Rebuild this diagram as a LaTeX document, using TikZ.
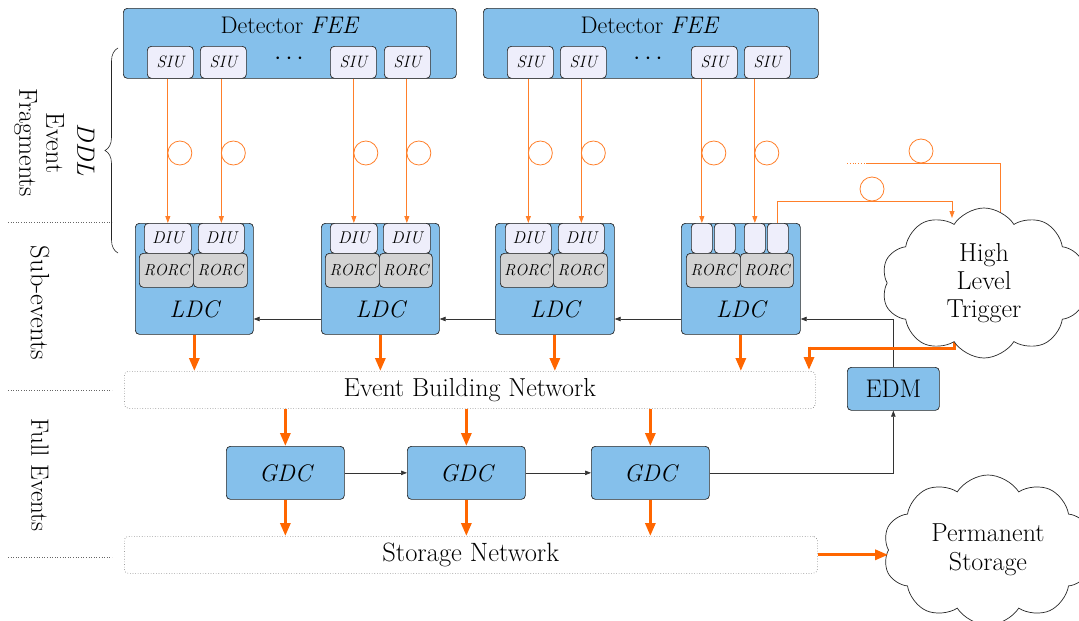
\documentclass[tikz,border=0pt]{standalone}
\usepackage{fontspec}
\usetikzlibrary{shapes.symbols,arrows.meta,decorations.pathreplacing,calc}
\definecolor{boxblue}{HTML}{85C0EB}
\definecolor{siufill}{HTML}{EEEEFB}
\definecolor{rorcfill}{HTML}{D3D3D3}
\definecolor{org}{HTML}{FF6600}
\definecolor{orgthin}{HTML}{FF7F2A}
\begin{document}
\begin{tikzpicture}[x=1pt,y=-1pt,
  every node/.style={inner sep=0pt, font=\fontsize{26}{30}\selectfont},
  bluebox/.style={draw=black!85, fill=boxblue, rounded corners=4pt, line width=0.7pt},
  siubox/.style={draw=black!85, fill=siufill, rounded corners=4pt, line width=0.7pt, font=\fontsize{16.5}{19}\selectfont\itshape},
  rorcbox/.style={draw=black!85, fill=rorcfill, rounded corners=4pt, line width=0.7pt, font=\fontsize{16}{19}\selectfont\itshape},
  wh/.style 2 args={minimum width=#1, minimum height=#2},
  nw/.style={anchor=north west},
  netbox/.style={draw=black!60, dotted, rounded corners=4pt, line width=0.6pt},
  sep/.style={draw=black!60, dotted, line width=0.6pt},
  thinarr/.style={draw=orgthin, line width=0.8pt, -{Triangle[length=7pt,width=5pt]}},
  thickarr/.style={draw=org, line width=3pt, -{Triangle[length=13pt,width=10pt]}},
  blkarr/.style={draw=black!80, line width=0.7pt, -{Triangle[length=6pt,width=4.5pt]}},
  loopc/.style={draw=orgthin, line width=0.8pt, circle, minimum size=24pt},
  bigit/.style={font=\fontsize{24}{28}\selectfont\itshape},
  cloudnode/.style={cloud, draw=black!85, fill=white, line width=0.7pt, cloud puffs=10, cloud puff arc=115, aspect=1.35, align=center},
]
\useasboundingbox (0,0) rectangle (1079,621);

% ---- Detector FEE boxes
\node[bluebox,nw,wh={333}{70}] (fee1) at (123,8) {};
\node[anchor=base, font=\fontsize{24}{28}\selectfont] (fee1t) at (290,33) {Detector \textit{FEE}};
\node[bluebox,nw,wh={335}{70}] (fee2) at (483,8) {};
\node[anchor=base, font=\fontsize{24}{28}\selectfont] (fee2t) at (650,33) {Detector \textit{FEE}};

\node[siubox,nw,wh={46}{32}] (s11) at (147,46) {SIU};
\node[siubox,nw,wh={46}{32}] (s12) at (200,46) {SIU};
\node[font=\fontsize{27}{30}\selectfont] (dots1) at (289,59) {$\cdots$};
\node[siubox,nw,wh={46}{32}] (s13) at (330,46) {SIU};
\node[siubox,nw,wh={46}{32}] (s14) at (384,46) {SIU};
\node[siubox,nw,wh={46}{32}] (s21) at (507,46) {SIU};
\node[siubox,nw,wh={46}{32}] (s22) at (560,46) {SIU};
\node[font=\fontsize{27}{30}\selectfont] (dots2) at (648,59) {$\cdots$};
\node[siubox,nw,wh={46}{32}] (s23) at (691,46) {SIU};
\node[siubox,nw,wh={46}{32}] (s24) at (744,46) {SIU};

% ---- LDCs
\node[bluebox,nw,wh={118}{111}] (l1) at (135,223) {};
\node[bluebox,nw,wh={118}{111}] (l2) at (321,223) {};
\node[bluebox,nw,wh={119}{111}] (l3) at (495,223) {};
\node[bluebox,nw,wh={119}{111}] (l4) at (681,223) {};
\node[bigit] (l1t) at ($(l1.south)+(0,-25)$) {LDC};
\node[bigit] (l2t) at ($(l2.south)+(0,-25)$) {LDC};
\node[bigit] (l3t) at ($(l3.south)+(0,-25)$) {LDC};
\node[bigit] (l4t) at ($(l4.south)+(0,-25)$) {LDC};

\node[siubox,nw,wh={47}{30},font=\fontsize{17}{20}\selectfont\itshape] (d11) at (144,223) {DIU};
\node[siubox,nw,wh={46}{30},font=\fontsize{17}{20}\selectfont\itshape] (d12) at (198,223) {DIU};
\node[siubox,nw,wh={47}{30},font=\fontsize{17}{20}\selectfont\itshape] (d21) at (330,223) {DIU};
\node[siubox,nw,wh={47}{30},font=\fontsize{17}{20}\selectfont\itshape] (d22) at (383,223) {DIU};
\node[siubox,nw,wh={46}{30},font=\fontsize{17}{20}\selectfont\itshape] (d31) at (505,223) {DIU};
\node[siubox,nw,wh={46}{30},font=\fontsize{17}{20}\selectfont\itshape] (d32) at (558,223) {DIU};
\node[siubox,nw,wh={21}{30}] (d41) at (691,223) {};
\node[siubox,nw,wh={21}{30}] (d42) at (714,223) {};
\node[siubox,nw,wh={21}{30}] (d43) at (744,223) {};
\node[siubox,nw,wh={21}{30}] (d44) at (767,223) {};

\node[rorcbox,nw,wh={54}{34}] (r11) at (139,253) {RORC};
\node[rorcbox,nw,wh={54}{34}] (r12) at (193,253) {RORC};
\node[rorcbox,nw,wh={54}{34}] (r21) at (325,253) {RORC};
\node[rorcbox,nw,wh={53}{34}] (r22) at (379,253) {RORC};
\node[rorcbox,nw,wh={53}{34}] (r31) at (500,253) {RORC};
\node[rorcbox,nw,wh={54}{34}] (r32) at (553,253) {RORC};
\node[rorcbox,nw,wh={54}{34}] (r41) at (686,253) {RORC};
\node[rorcbox,nw,wh={53}{34}] (r42) at (740,253) {RORC};

% ---- DDL links
\coordinate (cy) at (0,153);
\foreach \d/\s in {d11/s11,d12/s12,d21/s13,d22/s14,d31/s21,d32/s22,d41/s23,d43/s24}{
  \draw[thinarr] (\d.north |- \s.south) -- (\d.north);
  \node[loopc] (c\d) at ($(\d.north |- cy)+(12,0)$) {};
}

% ---- links to HLT
\coordinate (h1s) at (847,163);
\coordinate (h1m) at (866,163);
\coordinate (h1e) at (1000,228);
\coordinate (h2y) at (0,201);
\coordinate (h2e) at (952,218);
\draw[orgthin, line width=0.8pt, dotted] (h1s) -- (h1m);
\draw[thinarr] (h1m) -| (h1e);
\node[loopc] (ch1) at (921,151) {};
\draw[thinarr] (d44.north) -- (d44.north |- h2y) -| (h2e);
\node[loopc] (ch2) at (872,189) {};

% ---- networks
\node[netbox,nw,wh={691}{37}] (ebn) at (124,371) {Event Building Network};
\node[netbox,nw,wh={693}{37},font=\fontsize{26.5}{30}\selectfont] (sn) at (124,536) {Storage Network};

% ---- GDCs, EDM
\node[bluebox,nw,wh={118}{53},bigit] (g1) at (226,446) {GDC};
\node[bluebox,nw,wh={118}{53},bigit] (g2) at (407,446) {GDC};
\node[bluebox,nw,wh={118}{53},bigit] (g3) at (591,446) {GDC};
\node[bluebox,nw,wh={92}{43},font=\fontsize{25.5}{30}\selectfont] (edm) at (847,367) {EDM};

% ---- black control arrows
\coordinate (ay) at (0,319);
\draw[blkarr] (edm.north) |- (l4.east |- ay);
\draw[blkarr] (l4.west |- ay) -- (l3.east |- ay);
\draw[blkarr] (l3.west |- ay) -- (l2.east |- ay);
\draw[blkarr] (l2.west |- ay) -- (l1.east |- ay);
\draw[blkarr] (g1.east) -- (g2.west);
\draw[blkarr] (g2.east) -- (g3.west);
\draw[blkarr] (g3.east) -| (edm.south);

% ---- data flow (thick)
\foreach \l in {l1,l2,l3,l4}{
  \draw[thickarr] (\l.south) -- (\l.south |- ebn.north);
}
\foreach \g in {g1,g2,g3}{
  \draw[thickarr] (\g.north |- ebn.south) -- (\g.north);
  \draw[thickarr] (\g.south) -- (\g.south |- sn.north);
}
\coordinate (hb) at (954,330);
\coordinate (hk) at (0,348);
\coordinate (ebarr) at (809,370);
\draw[draw=org, line width=3pt] (hb) -- (hb |- hk) -- (hk -| ebarr);
\draw[thickarr] ($(hk -| ebarr)+(0,-1.5)$) -- (ebarr);

% ---- clouds
\node[cloudnode, minimum width=205pt, minimum height=150pt, font=\fontsize{26}{28}\selectfont] (hlt) at (984,283) {High\\Level\\Trigger};
\node[cloudnode, minimum width=210pt, minimum height=150pt, font=\fontsize{26}{29}\selectfont] (ps) at (988,550) {Permanent\\Storage};
\draw[thickarr] (sn.east) -- (sn.east -| ps.west);

% ---- left annotations
\coordinate (bt) at (118,48);
\coordinate (bb) at (118,253);
\draw[black!85, line width=0.6pt, decorate, decoration={brace, amplitude=13pt}] (bb) -- (bt);
\node[rotate=-90, font=\fontsize{25}{29}\selectfont\itshape] (ddl) at (86,150) {DDL};
\node[rotate=-90, align=center, font=\fontsize{26}{27}\selectfont] (evf) at (39,143) {Event\\Fragments};
\node[rotate=-90, font=\fontsize{26.5}{30}\selectfont] (sube) at (40,303) {Sub-events};
\node[rotate=-90, font=\fontsize{25}{30}\selectfont] (fulle) at (40,475) {Full Events};
\coordinate (p1a) at (8,222); \coordinate (p1b) at (112,222);
\coordinate (p2a) at (8,390); \coordinate (p2b) at (112,390);
\coordinate (p3a) at (8,557); \coordinate (p3b) at (112,557);
\draw[sep] (p1a) -- (p1b);
\draw[sep] (p2a) -- (p2b);
\draw[sep] (p3a) -- (p3b);
\end{tikzpicture}
\end{document}
